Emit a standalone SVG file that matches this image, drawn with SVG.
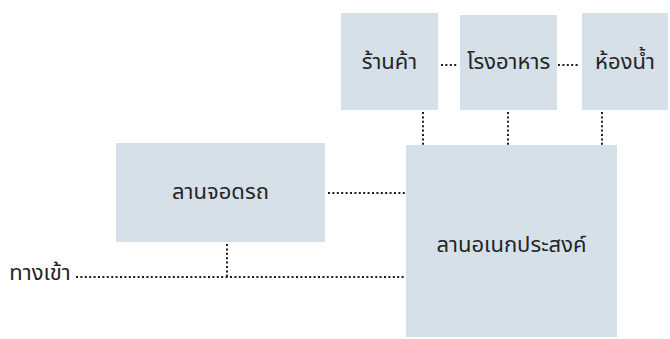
<svg xmlns="http://www.w3.org/2000/svg" width="670" height="339" viewBox="0 0 670 339">
<style>
.box{fill:#d5e0e9;}
.lbl{font-family:"Noto Sans Thai","Noto Sans Thai Looped","Noto Sans","Liberation Sans",sans-serif;font-size:22px;fill:#252525;text-anchor:middle;dominant-baseline:central;}
.dot{stroke:#1e1e1e;stroke-width:2;stroke-dasharray:2 2.4;fill:none;}
</style>
<rect width="670" height="339" fill="#ffffff"/>
<g id="connectors">
<path class="dot" d="M441 65H457"/>
<path class="dot" d="M558 65H578"/>
<path class="dot" d="M423 112V145"/>
<path class="dot" d="M508 112V145"/>
<path class="dot" d="M602 112V145"/>
<path class="dot" d="M328 193H406"/>
<path class="dot" d="M76 277H406"/>
<path class="dot" d="M227 244V277"/>
</g>
<g id="shop"><rect class="box" x="341" y="13" width="97" height="97"/><text class="lbl" x="389.5" y="62">ร้านค้า</text></g>
<g id="canteen"><rect class="box" x="460" y="15" width="97" height="95"/><text class="lbl" x="508.5" y="62">โรงอาหาร</text></g>
<g id="toilet"><rect class="box" x="582" y="13" width="86" height="97"/><text class="lbl" x="625" y="62">ห้องน้ำ</text></g>
<g id="parking"><rect class="box" x="116" y="143" width="209" height="99"/><text class="lbl" x="220.5" y="192">ลานจอดรถ</text></g>
<g id="plaza"><rect class="box" x="406" y="145" width="211" height="192"/><text class="lbl" x="511.5" y="245">ลานอเนกประสงค์</text></g>
<g id="entrance"><text class="lbl" x="40" y="273">ทางเข้า</text></g>
</svg>
